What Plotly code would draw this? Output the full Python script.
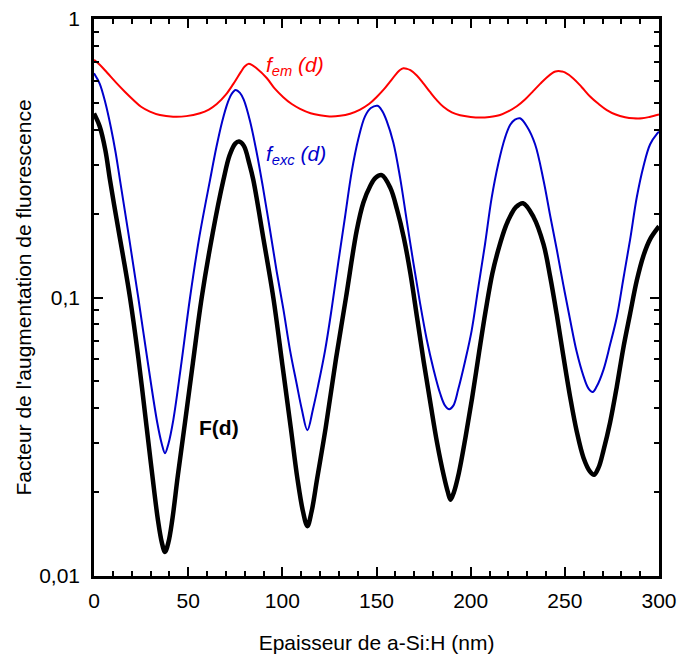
import plotly.graph_objects as go

# Thickness d (nm) and factor values
d_em = [0, 3.2, 7, 12.1, 16.5, 20.9, 25, 29.7, 35, 42, 49, 56.3, 61, 65.2, 70, 74, 78, 80, 82, 84, 86,
        91.7, 96, 100.5, 105, 109.4, 115, 120, 125, 130.6, 136, 141.3, 146, 150.1, 154, 157.2, 160.5,
        162.3, 164.3, 166.2, 168, 171.4, 175, 178.4, 182, 185.5, 190, 194.4, 200, 205, 210, 215.6,
        220, 224.5, 229, 233.3, 237, 240.4, 243.5, 245, 246.6, 248.3, 250, 254.5, 259, 263.4, 268,
        272.3, 277, 282, 286.4, 291, 295, 300]
f_em = [0.713, 0.684, 0.641, 0.587, 0.547, 0.512, 0.484, 0.465, 0.452, 0.446, 0.448, 0.459, 0.473,
        0.495, 0.535, 0.585, 0.646, 0.675, 0.690, 0.683, 0.668, 0.614, 0.562, 0.524, 0.495, 0.476,
        0.459, 0.451, 0.447, 0.449, 0.457, 0.473, 0.495, 0.525, 0.560, 0.596, 0.635, 0.655, 0.665,
        0.662, 0.655, 0.627, 0.586, 0.547, 0.511, 0.484, 0.462, 0.451, 0.445, 0.443, 0.445, 0.452,
        0.466, 0.486, 0.515, 0.552, 0.586, 0.617, 0.641, 0.648, 0.650, 0.648, 0.643, 0.612, 0.569,
        0.527, 0.495, 0.471, 0.454, 0.444, 0.440, 0.440, 0.445, 0.454]

d_exc = [0, 3, 6, 9, 11.5, 13.8, 18.5, 23.5, 28.5, 33.6, 36, 37.7, 39.5, 42.1, 46.5, 51, 56, 61.6,
         65, 68, 71, 73, 75.2, 77.5, 79.5, 82.8, 86.4, 89.6, 93.5, 97, 100.5, 104.1, 107.6, 110.3,
         113.3, 116.3, 119.2, 122.7, 126.2, 129.8, 133.3, 136.8, 140.4, 143.9, 147, 150.6, 153,
         155.4, 158.9, 162.5, 166, 169.6, 173.1, 176.7, 180.2, 183.8, 186.4, 188.6, 190.8, 193.4,
         197, 200.5, 204, 207.6, 211.1, 214.7, 218.2, 221, 223.5, 226.2, 229.8, 234.2, 238.7, 242.2,
         245.7, 249.2, 252.8, 256.3, 259.9, 262.5, 264.8, 266.9, 270.5, 274, 277.6, 281.1, 284.7,
         288.2, 291.7, 295.3, 299.2, 300]
f_exc = [0.638, 0.586, 0.501, 0.407, 0.331, 0.264, 0.166, 0.100, 0.0589, 0.0355, 0.0298, 0.0276,
         0.0298, 0.0363, 0.0589, 0.100, 0.166, 0.264, 0.347, 0.427, 0.501, 0.537, 0.556, 0.543,
         0.513, 0.431, 0.331, 0.251, 0.174, 0.124, 0.0912, 0.0646, 0.0490, 0.0398, 0.0334, 0.0398,
         0.0490, 0.0646, 0.0912, 0.135, 0.195, 0.282, 0.372, 0.447, 0.479, 0.488, 0.468, 0.431,
         0.361, 0.270, 0.190, 0.133, 0.0957, 0.0705, 0.0555, 0.0452, 0.0409, 0.0397, 0.0409, 0.0468,
         0.0589, 0.0759, 0.108, 0.155, 0.227, 0.303, 0.374, 0.417, 0.435, 0.440, 0.412, 0.355, 0.263,
         0.197, 0.149, 0.111, 0.0832, 0.0638, 0.0522, 0.0472, 0.0458, 0.0479, 0.0550, 0.0676, 0.0851,
         0.117, 0.162, 0.229, 0.295, 0.355, 0.389, 0.394]

d_F = [0, 3, 6, 8.5, 12, 15.5, 19.1, 23.5, 28, 31, 34, 36, 37.7, 39.5, 41.5, 44.5, 48.3, 52.5, 57.2,
       63, 68.7, 72, 75, 77, 79.5, 82.5, 84.6, 90, 95.2, 100, 104.5, 108, 111, 113.3, 115.5, 118.5,
       123, 128.5, 133.8, 139.5, 143, 146.6, 149.5, 152.8, 157.4, 160.9, 164.5, 168, 171.6, 175.1,
       178.7, 182.2, 185.8, 187.9, 189.3, 191.1, 193.7, 197.3, 200.8, 204.4, 207.9, 211.5, 215,
       218.6, 221.2, 224, 227.8, 233.3, 238.7, 242.2, 245.7, 249.2, 252.8, 256.3, 259.9, 263.4,
       265.5, 267.9, 270.5, 274, 277.6, 281.1, 284.6, 288.2, 291.7, 295.3, 299.7, 300]
F = [0.458, 0.412, 0.339, 0.264, 0.191, 0.140, 0.100, 0.0610, 0.0340, 0.0229, 0.0158, 0.0132,
     0.0122, 0.0132, 0.0158, 0.0229, 0.0355, 0.0582, 0.100, 0.170, 0.264, 0.324, 0.357, 0.363,
     0.351, 0.302, 0.264, 0.162, 0.100, 0.0575, 0.0340, 0.0224, 0.0170, 0.0151, 0.0170, 0.0224,
     0.0340, 0.0603, 0.100, 0.174, 0.219, 0.251, 0.269, 0.275, 0.247, 0.207, 0.164, 0.122, 0.0841,
     0.0586, 0.0415, 0.0300, 0.0228, 0.0200, 0.0188, 0.0200, 0.0234, 0.0316, 0.0437, 0.0631,
     0.0891, 0.122, 0.151, 0.180, 0.197, 0.211, 0.218, 0.195, 0.155, 0.119, 0.0869, 0.0617, 0.0440,
     0.0331, 0.0266, 0.0237, 0.0231, 0.0245, 0.0282, 0.0355, 0.0479, 0.0661, 0.0871, 0.115, 0.141,
     0.162, 0.179, 0.180]

x_ticks = [0, 50, 100, 150, 200, 250, 300]
y_ticks = [0.01, 0.1, 1]
y_ticktext = ["0,01", "0,1", "1"]
y_minor = [0.02, 0.03, 0.04, 0.05, 0.06, 0.07, 0.08, 0.09, 0.2, 0.3, 0.4, 0.5, 0.6, 0.7, 0.8, 0.9]

FONT = "Liberation Sans, Arial, sans-serif"
FS = 21

fig = go.Figure()
fig.add_trace(go.Scatter(x=d_em, y=f_em, mode="lines", line=dict(color="#ff0000", width=2, shape="spline"),
                         showlegend=False))
fig.add_trace(go.Scatter(x=d_exc, y=f_exc, mode="lines", line=dict(color="#0000cc", width=2, shape="spline"),
                         showlegend=False))
fig.add_trace(go.Scatter(x=d_F, y=F, mode="lines", line=dict(color="#000000", width=4.5, shape="spline"),
                         showlegend=False))

# annotation y positions are log10 values on the log axis
fig.add_annotation(x=90.5, y=-0.17, xref="x", yref="y", yanchor="middle", xanchor="left", showarrow=False,
                   text="<i>f<sub>em</sub> (d)</i>", font=dict(color="#ff0000", size=FS, family=FONT))
fig.add_annotation(x=90.5, y=-0.49, xref="x", yref="y", yanchor="middle", xanchor="left", showarrow=False,
                   text="<i>f<sub>exc</sub> (d)</i>", font=dict(color="#0000cc", size=FS, family=FONT))
fig.add_annotation(x=54.5, y=-1.465, xref="x", yref="y", yanchor="middle", xanchor="left", showarrow=False,
                   text="<b>F(d)</b>", font=dict(color="#000000", size=FS, family=FONT))

fig.update_layout(
    width=678, height=654,
    margin=dict(l=94, r=19, t=19, b=78),
    plot_bgcolor="white", paper_bgcolor="white",
    font=dict(family=FONT, size=FS, color="#000000"),
)
fig.update_xaxes(
    range=[0, 300], tickvals=x_ticks, ticks="inside", ticklen=9, tickwidth=2, tickcolor="black",
    showline=True, linewidth=2.5, linecolor="black", mirror="allticks", showgrid=False, zeroline=False,
    minor=dict(ticks="inside", dtick=10, ticklen=5, tickwidth=2, tickcolor="black", showgrid=False),
    tickfont=dict(size=FS), ticklabelstandoff=4, automargin=False,
    title=dict(text="Epaisseur de a-Si:H (nm)", font=dict(size=FS), standoff=25),
)
fig.update_yaxes(
    type="log", range=[-2, 0], tickvals=y_ticks, ticktext=y_ticktext, ticks="inside", ticklen=9,
    tickwidth=2, tickcolor="black", showline=True, linewidth=2.5, linecolor="black", mirror="allticks",
    showgrid=False, zeroline=False,
    minor=dict(ticks="inside", tickvals=y_minor, ticklen=5, tickwidth=2, tickcolor="black", showgrid=False),
    tickfont=dict(size=FS), ticklabelstandoff=7, automargin=False,
    title=dict(text="Facteur de l'augmentation de fluorescence", font=dict(size=FS), standoff=2),
)

fig.write_html("out.html", config={"displayModeBar": False},
               post_script="document.body.style.margin='0';document.body.style.padding='0';")
